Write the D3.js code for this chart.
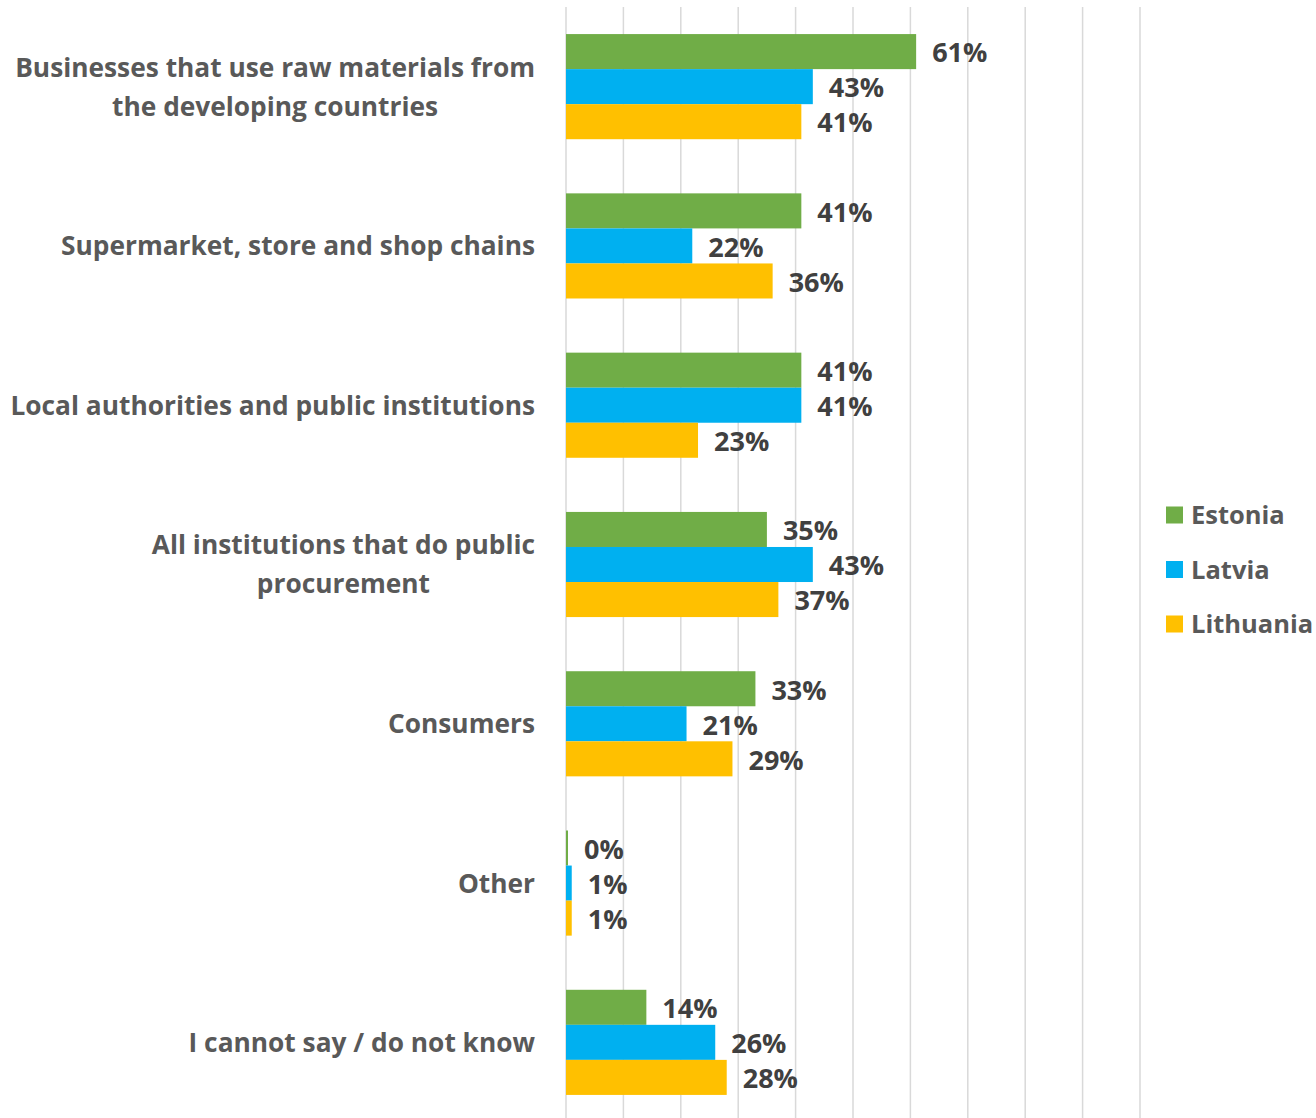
<!DOCTYPE html>
<html>
<head>
<meta charset="utf-8">
<script src="https://cdn.jsdelivr.net/npm/d3@7"></script>
<style>
  html, body { margin: 0; padding: 0; background: #fff; }
  svg { display: block; font-family: "Open Sans", Lato, sans-serif; font-weight: 700; }
</style>
</head>
<body>
<svg id="chart" width="1316" height="1118"></svg>
<script>
// Survey answers: who should be responsible, share of respondents per country
const categories = [
  ["Businesses that use raw materials from", "the developing countries"],
  ["Supermarket, store and shop chains"],
  ["Local authorities and public institutions"],
  ["All institutions that do public", "procurement"],
  ["Consumers"],
  ["Other"],
  ["I cannot say / do not know"]
];
const seriesNames = ["Estonia", "Latvia", "Lithuania"];
const estonia   = [0.61, 0.41, 0.41, 0.35, 0.33, 0.00, 0.14];
const latvia    = [0.43, 0.22, 0.41, 0.43, 0.21, 0.01, 0.26];
const lithuania = [0.41, 0.36, 0.23, 0.37, 0.29, 0.01, 0.28];
const colors = ["#70AD47", "#00B0F0", "#FFC000"];
const gridTicks = d3.range(0, 1.0001, 0.1);

const seriesValues = [estonia, latvia, lithuania];
const svg = d3.select("#chart");

const x = d3.scaleLinear().domain([0, 1]).range([566, 1140]);
const y = d3.scaleBand()
  .domain(d3.range(categories.length))
  .range([7, 1122])
  .paddingInner(0.34)
  .paddingOuter(0.17);
const ySub = d3.scaleBand()
  .domain(d3.range(seriesNames.length))
  .range([0, y.bandwidth()]);

// vertical gridlines
svg.append("g")
  .selectAll("line")
  .data(gridTicks)
  .join("line")
  .attr("x1", d => x(d)).attr("x2", d => x(d))
  .attr("y1", 7).attr("y2", 1118)
  .attr("stroke", "#d9d9d9")
  .attr("stroke-width", 1.5);

// bars
const groups = svg.append("g")
  .selectAll("g")
  .data(categories.map((c, i) => i))
  .join("g")
  .attr("transform", i => `translate(0,${y(i)})`);

groups.selectAll("rect")
  .data(i => seriesValues.map((vals, s) => ({ s, v: vals[i] })))
  .join("rect")
  .attr("x", x(0))
  .attr("y", d => ySub(d.s))
  .attr("width", d => Math.max(x(d.v) - x(0), 2))
  .attr("height", ySub.bandwidth())
  .attr("fill", d => colors[d.s]);

// value labels
groups.selectAll("text")
  .data(i => seriesValues.map((vals, s) => ({ s, v: vals[i] })))
  .join("text")
  .attr("x", d => Math.max(x(d.v), x(0) + 2) + 16)
  .attr("y", d => ySub(d.s) + ySub.bandwidth() / 2)
  .attr("dy", "0.40em")
  .attr("fill", "#404040")
  .attr("font-size", 27)
  .text(d => d3.format(".0%")(d.v));

// category labels: lines centred within a right-aligned block
const labelG = svg.append("g");
categories.forEach((lines, i) => {
  const cy = y(i) + y.bandwidth() / 2;
  const lh = 39;
  const t = labelG.append("text")
    .attr("fill", "#595959")
    .attr("font-size", 26.3);
  lines.forEach((ln, k) => {
    t.append("tspan")
      .attr("x", 0)
      .attr("y", cy + (k - (lines.length - 1) / 2) * lh)
      .attr("dy", "0.36em")
      .attr("text-anchor", "middle")
      .text(ln);
  });
  const w = d3.max(t.selectAll("tspan").nodes(), n => n.getComputedTextLength());
  t.attr("transform", `translate(${535 - w / 2},0)`);
});

// legend
const legend = svg.append("g")
  .selectAll("g")
  .data(seriesNames)
  .join("g")
  .attr("transform", (d, i) => `translate(1166,${515 + i * 54.5})`);
legend.append("rect")
  .attr("x", 0).attr("y", -8.5)
  .attr("width", 17).attr("height", 17)
  .attr("fill", (d, i) => colors[i]);
legend.append("text")
  .attr("x", 25).attr("y", 0).attr("dy", "0.36em")
  .attr("fill", "#595959")
  .attr("font-size", 25.5)
  .text(d => d);
</script>
</body>
</html>
